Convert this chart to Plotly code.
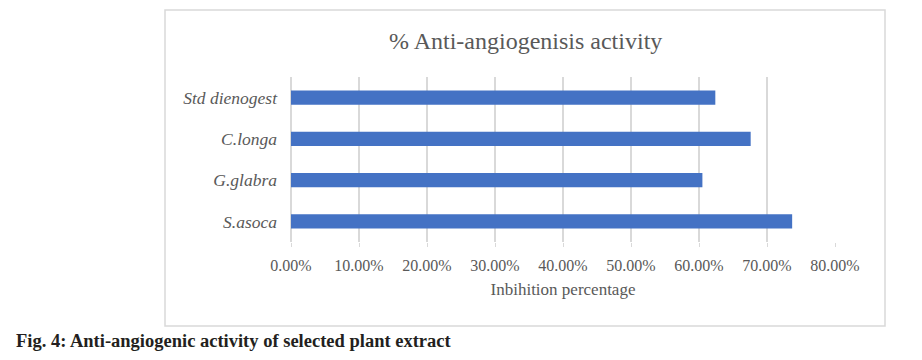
import plotly.graph_objects as go

categories = ["Std dienogest", "C.longa", "G.glabra", "S.asoca"]
inhibition = [0.624, 0.676, 0.605, 0.737]
tick_vals = [0, 0.1, 0.2, 0.3, 0.4, 0.5, 0.6, 0.7, 0.8]

W, H = 922, 360
L, R, T, B = 291, 835, 77, 242  # plot area in pixels

def px(x):
    return (x - L) / (R - L)

def py(y):
    return (B - y) / (B - T)

GRAY = "#595959"
GRID = "#d9d9d9"
FONT = "Liberation Serif, Times New Roman, serif"

fig = go.Figure(go.Bar(
    x=inhibition, y=categories, orientation="h",
    marker=dict(color="#4472C4", line=dict(width=0)),
    width=0.34,
))

fig.update_layout(
    width=W, height=H,
    margin=dict(l=L, r=W - R, t=T, b=H - B),
    paper_bgcolor="white", plot_bgcolor="white",
    showlegend=False,
    font=dict(family=FONT, color=GRAY, size=16),
    xaxis=dict(
        range=[0, 0.8], tickvals=tick_vals, tickformat=".2%",
        showgrid=True, gridcolor=GRID, gridwidth=2,
        zeroline=True, zerolinecolor=GRID, zerolinewidth=2,
        showline=False,
        ticks="outside", ticklen=4, tickcolor=GRID, tickwidth=1,
        ticklabelstandoff=5,
        tickfont=dict(size=16, color=GRAY, family=FONT),
        title=dict(text="Inbihition percentage", standoff=9,
                   font=dict(size=17, color=GRAY, family=FONT)),
    ),
    yaxis=dict(
        autorange="reversed", showgrid=False, zeroline=False,
        showline=False, ticks="", ticklabelstandoff=13,
        tickfont=dict(size=17.5, color=GRAY, style="italic", family=FONT),
    ),
    shapes=[
        dict(type="rect", xref="paper", yref="paper",
             x0=px(165), x1=px(885), y0=py(326), y1=py(10),
             line=dict(color=GRID, width=1.5), fillcolor="rgba(0,0,0,0)",
             layer="below"),
    ],
    annotations=[
        dict(text="% Anti-angiogenisis activity", xref="paper", yref="paper",
             x=px(525), y=py(41), xanchor="center", yanchor="middle",
             showarrow=False, font=dict(size=24, color=GRAY, family=FONT)),
        dict(text="<b>Fig. 4: Anti-angiogenic activity of selected plant extract</b>",
             xref="paper", yref="paper", x=px(14), y=py(341),
             xanchor="left", yanchor="middle", showarrow=False,
             font=dict(size=18.5, color="#231f20", family=FONT)),
    ],
)

fig.write_html("out.html", config={"displayModeBar": False},
               post_script="document.body.style.margin='0';")
